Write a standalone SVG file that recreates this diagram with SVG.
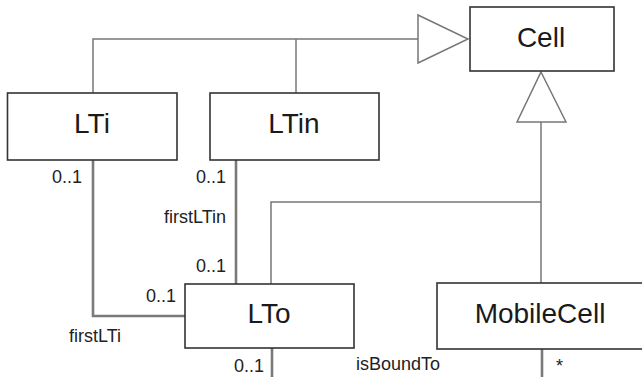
<svg xmlns="http://www.w3.org/2000/svg" width="642" height="377" viewBox="0 0 642 377">
  <style>
    .box { fill: #ffffff; stroke: #333333; stroke-width: 1.6; }
    .name { font-family: "Liberation Sans", Arial, sans-serif; font-size: 28px; fill: #1a1a1a; text-anchor: middle; }
    .gen { fill: none; stroke: #777777; stroke-width: 1.5; }
    .tri { fill: #ffffff; stroke: #777777; stroke-width: 1.5; stroke-linejoin: miter; }
    .assoc { fill: none; stroke: #7a7a7a; stroke-width: 2.6; }
    .lbl { font-family: "Liberation Sans", Arial, sans-serif; font-size: 18px; fill: #222222; }
    .end { text-anchor: end; }
  </style>

  <!-- connectors: generalizations and associations -->
  <g id="connectors">
    <!-- LTi / LTin generalize to Cell -->
    <polyline class="gen" points="93,93 93,39 418,39"/>
    <line class="gen" x1="296" y1="39" x2="296" y2="93"/>
    <polygon class="tri" points="418,15 468,39 418,63"/>
    <!-- LTo / MobileCell generalize to Cell -->
    <polyline class="gen" points="271,284 271,202 541,202"/>
    <line class="gen" x1="541" y1="122" x2="541" y2="283"/>
    <polygon class="tri" points="541,72 566,122 517,122"/>

    <!-- firstLTi -->
    <polyline class="assoc" points="93,160 93,316 185,316"/>
    <!-- firstLTin -->
    <line class="assoc" x1="236" y1="160" x2="236" y2="284"/>
    <!-- isBoundTo -->
    <line class="assoc" x1="272" y1="348" x2="272" y2="380"/>
    <line class="assoc" x1="542" y1="349" x2="542" y2="380"/>

    <!-- multiplicities and role names -->
    <text class="lbl end" x="82" y="183">0..1</text>
    <text class="lbl end" x="226" y="183">0..1</text>
    <text class="lbl end" x="226" y="223">firstLTin</text>
    <text class="lbl end" x="226" y="272">0..1</text>
    <text class="lbl end" x="176" y="302">0..1</text>
    <text class="lbl" x="69" y="342">firstLTi</text>
    <text class="lbl end" x="264" y="372">0..1</text>
    <text class="lbl" x="356" y="370">isBoundTo</text>
    <text class="lbl" x="556" y="372">*</text>
  </g>

  <g id="Cell">
    <rect class="box" x="470" y="7" width="144" height="64"/>
    <text class="name" x="541" y="47">Cell</text>
  </g>

  <g id="LTi">
    <rect class="box" x="7.5" y="93" width="169.5" height="67"/>
    <text class="name" x="92" y="133">LTi</text>
  </g>

  <g id="LTin">
    <rect class="box" x="210" y="93" width="169" height="67"/>
    <text class="name" x="294" y="133">LTin</text>
  </g>

  <g id="LTo">
    <rect class="box" x="185" y="284" width="169" height="64"/>
    <text class="name" x="269" y="323">LTo</text>
  </g>

  <g id="MobileCell">
    <rect class="box" x="437" y="283" width="215" height="66"/>
    <text class="name" x="540" y="323">MobileCell</text>
  </g>
</svg>
